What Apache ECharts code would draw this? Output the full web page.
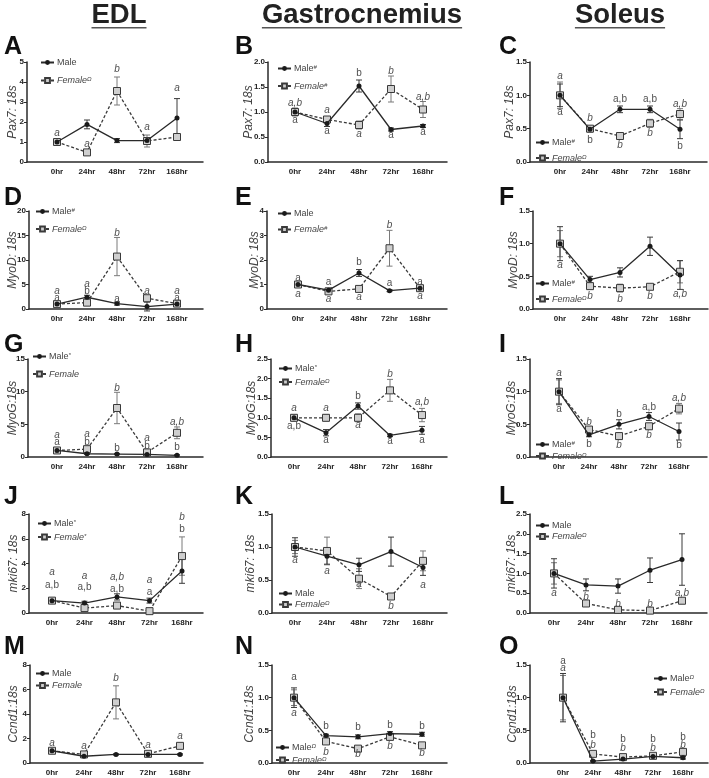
<!DOCTYPE html>
<html><head><meta charset="utf-8">
<script src="https://cdn.jsdelivr.net/npm/echarts@6/dist/echarts.min.js"></script>
<style>html,body{margin:0;padding:0;background:#fff}#c{width:709px;height:778px}</style>
</head><body><div id="c"></div>
<script>
const categories = ['0hr', '24hr', '48hr', '72hr', '168hr'];
const columnTitles = ['EDL', 'Gastrocnemius', 'Soleus'];

// Panel A – EDL Pax7
const maleA = [1.0, 1.88, 1.07, 1.07, 2.2];
const maleErrA = [0.1, 0.22, 0.1, 0.1, 0.97];
const femaleA = [1.0, 0.48, 3.55, 1.05, 1.25];
const femaleErrA = [0.12, 0.05, 0.7, 0.3, 0.08];
const annA = [[0,1.45,'a',1],[1,0.88,'a',1],[2,4.65,'b',1],[3,1.75,'a',1],[4,3.7,'a',1]];
// Panel B – Gastrocnemius Pax7
const maleB = [1.0, 0.77, 1.52, 0.65, 0.72];
const maleErrB = [0.05, 0.06, 0.12, 0.03, 0.03];
const femaleB = [1.0, 0.85, 0.74, 1.46, 1.05];
const femaleErrB = [0.08, 0.04, 0.08, 0.26, 0.16];
const annB = [[0,1.18,'a,b',1],[0,0.83,'a',0],[1,1.04,'a',1],[1,0.62,'a',0],[2,1.78,'b',0],[2,0.56,'a',1],[3,1.82,'b',1],[3,0.54,'a',0],[4,1.3,'a,b',1],[4,0.6,'a',0]];
// Panel C – Soleus Pax7
const maleC = [1.0, 0.49, 0.79, 0.79, 0.49];
const maleErrC = [0.17, 0.04, 0.05, 0.05, 0.14];
const femaleC = [1.0, 0.5, 0.39, 0.58, 0.72];
const femaleErrC = [0.2, 0.04, 0.03, 0.06, 0.08];
const annC = [[0,1.28,'a',1],[0,0.74,'a',0],[1,0.66,'b',1],[1,0.33,'b',0],[2,0.94,'a,b',0],[2,0.25,'b',1],[3,0.94,'a,b',0],[3,0.43,'b',1],[4,0.86,'a,b',1],[4,0.24,'b',0]];
// Panel D – EDL MyoD
const maleD = [1.0, 2.4, 1.1, 0.5, 1.0];
const maleErrD = [0.2, 0.4, 0.3, 0.9, 0.2];
const femaleD = [1.0, 1.3, 10.7, 2.2, 1.1];
const femaleErrD = [0.2, 0.3, 3.9, 0.4, 0.2];
const annD = [[0,3.7,'a',1],[0,2.2,'a',0],[1,5.1,'a',1],[1,3.6,'b',0],[2,15.5,'b',1],[2,2.0,'a',0],[3,3.6,'a',1],[4,3.6,'a',1],[4,2.2,'a',0]];
// Panel E – Gastrocnemius MyoD
const maleE = [1.0, 0.77, 1.47, 0.75, 0.85];
const maleErrE = [0.05, 0.08, 0.14, 0.04, 0.06];
const femaleE = [1.0, 0.72, 0.82, 2.48, 0.85];
const femaleErrE = [0.08, 0.06, 0.08, 0.73, 0.06];
const annE = [[0,1.25,'a',0],[0,0.62,'a',1],[1,1.11,'a',0],[1,0.4,'a',1],[2,1.9,'b',0],[2,0.5,'a',1],[3,3.43,'b',1],[3,1.06,'a',0],[4,1.11,'a',0],[4,0.53,'a',1]];
// Panel F – Soleus MyoD
const maleF = [1.0, 0.45, 0.56, 0.96, 0.52];
const maleErrF = [0.26, 0.05, 0.07, 0.14, 0.22];
const femaleF = [1.0, 0.35, 0.32, 0.34, 0.57];
const femaleErrF = [0.2, 0.05, 0.06, 0.04, 0.17];
const annF = [[0,0.67,'a',1],[1,0.2,'b',1],[2,0.15,'b',1],[3,0.2,'b',1],[4,0.22,'a,b',1]];
// Panel G – EDL MyoG
const maleG = [1.0, 0.5, 0.45, 0.4, 0.25];
const maleErrG = [0.1, 0.1, 0.1, 0.15, 0.1];
const femaleG = [1.0, 1.2, 7.5, 0.7, 3.7];
const femaleErrG = [0.15, 0.3, 2.4, 0.25, 0.9];
const annG = [[0,3.4,'a',1],[0,2.3,'a',0],[1,3.5,'a',1],[1,2.3,'b',0],[2,10.6,'b',1],[2,1.3,'b',0],[3,2.8,'a',1],[3,1.6,'b',0],[4,5.4,'a,b',1],[4,1.45,'b',0]];
// Panel H – Gastrocnemius MyoG
const maleH = [1.0, 0.62, 1.3, 0.55, 0.68];
const maleErrH = [0.08, 0.08, 0.08, 0.03, 0.1];
const femaleH = [1.0, 1.0, 1.0, 1.7, 1.07];
const femaleErrH = [0.06, 0.08, 0.1, 0.28, 0.17];
const annH = [[0,1.24,'a',1],[0,0.78,'a,b',0],[1,1.24,'a',1],[1,0.44,'a',0],[2,1.55,'b',0],[2,0.8,'a',1],[3,2.11,'b',1],[3,0.4,'a',0],[4,1.41,'a,b',1],[4,0.44,'a',0]];
// Panel I – Soleus MyoG
const maleI = [1.0, 0.34, 0.5, 0.62, 0.39];
const maleErrI = [0.2, 0.03, 0.07, 0.06, 0.13];
const femaleI = [1.0, 0.42, 0.32, 0.47, 0.74];
const femaleErrI = [0.18, 0.04, 0.05, 0.04, 0.08];
const annI = [[0,1.28,'a',1],[0,0.73,'a',0],[1,0.53,'b',1],[1,0.2,'b',0],[2,0.66,'b',0],[2,0.18,'b',1],[3,0.76,'a,b',0],[3,0.33,'b',1],[4,0.9,'a,b',1],[4,0.18,'b',0]];
// Panel J – EDL mki67
const maleJ = [1.0, 0.8, 1.3, 1.0, 3.4];
const maleErrJ = [0.1, 0.15, 0.25, 0.2, 1.0];
const femaleJ = [1.0, 0.4, 0.6, 0.15, 4.6];
const femaleErrJ = [0.1, 0.1, 0.15, 0.1, 1.55];
const annJ = [[0,3.33,'a',1],[0,2.26,'a,b',0],[1,3.0,'a',1],[1,2.12,'a,b',0],[2,2.9,'a,b',1],[2,1.94,'a,b',0],[3,2.66,'a',1],[3,1.67,'a',0],[4,7.77,'b',1],[4,6.75,'b',0]];
// Panel K – Gastrocnemius mki67
const maleK = [1.0, 0.86, 0.73, 0.93, 0.69];
const maleErrK = [0.14, 0.12, 0.1, 0.22, 0.12];
const femaleK = [1.0, 0.94, 0.52, 0.25, 0.79];
const femaleErrK = [0.1, 0.21, 0.15, 0.03, 0.15];
const annK = [[0,0.8,'a',1],[1,0.64,'a',1],[2,0.44,'a',1],[3,0.1,'b',1],[4,0.42,'a',1]];
// Panel L – Soleus mki67
const maleL = [1.0, 0.71, 0.68, 1.08, 1.35];
const maleErrL = [0.37, 0.15, 0.18, 0.31, 0.65];
const femaleL = [1.0, 0.24, 0.08, 0.06, 0.31];
const femaleErrL = [0.27, 0.03, 0.03, 0.02, 0.03];
const annL = [[0,0.5,'a',1],[1,0.4,'b',1],[2,0.23,'b',1],[3,0.23,'b',1],[4,0.5,'a,b',1]];
// Panel M – EDL Ccnd1
const maleM = [1.0, 0.55, 0.7, 0.7, 0.7];
const maleErrM = [0.05, 0.05, 0.05, 0.05, 0.05];
const femaleM = [1.0, 0.7, 4.95, 0.75, 1.4];
const femaleErrM = [0.1, 0.1, 1.35, 0.1, 0.2];
const annM = [[0,1.6,'a',1],[1,1.33,'a',1],[2,6.96,'b',1],[3,1.47,'a',1],[4,2.15,'a',1]];
// Panel N – Gastrocnemius Ccnd1
const maleN = [1.0, 0.42, 0.4, 0.45, 0.44];
const maleErrN = [0.15, 0.02, 0.03, 0.03, 0.03];
const femaleN = [1.0, 0.33, 0.22, 0.4, 0.27];
const femaleErrN = [0.12, 0.02, 0.02, 0.05, 0.03];
const annN = [[0,1.31,'a',0],[0,0.76,'a',1],[1,0.56,'b',0],[1,0.17,'b',1],[2,0.54,'b',0],[2,0.13,'b',1],[3,0.58,'b',0],[3,0.25,'b',1],[4,0.56,'b',0],[4,0.15,'b',1]];
// Panel O – Soleus Ccnd1
const maleO = [1.0, 0.03, 0.06, 0.1, 0.08];
const maleErrO = [0.37, 0.01, 0.01, 0.01, 0.02];
const femaleO = [1.0, 0.14, 0.09, 0.11, 0.17];
const femaleErrO = [0.34, 0.02, 0.02, 0.02, 0.03];
const annO = [[0,1.55,'a',0],[0,1.45,'a',1],[1,0.43,'b',0],[1,0.27,'b',1],[2,0.37,'b',0],[2,0.22,'b',1],[3,0.37,'b',0],[3,0.22,'b',1],[4,0.4,'b',0],[4,0.27,'b',1]];

const FONT = "'Liberation Sans', Arial, Helvetica, sans-serif";
const rowsY = [[62,162],[211,309],[359,457],[514,613],[665,763]];
const letterY = [47, 198, 345, 497, 647];
const colLetterX = [4, 235, 499];
const colTitleX = [119, 362, 620];

const panels = [
 {id:'A',row:0,col:0,L:27,R:203,P0:57,S:30,yMax:5,yStep:1,dec:0,yName:'Pax7: 18s',nameX:13,m:maleA,me:maleErrA,f:femaleA,fe:femaleErrA,ann:annA,mSup:'',fSup:'Ω',lg:[40,62,17]},
 {id:'B',row:0,col:1,L:268,R:447,P0:295,S:32,yMax:2,yStep:0.5,dec:1,yName:'Pax7: 18s',nameX:249,m:maleB,me:maleErrB,f:femaleB,fe:femaleErrB,ann:annB,mSup:'#',fSup:'#',lg:[277,68,14]},
 {id:'C',row:0,col:2,L:530,R:707,P0:560,S:30,yMax:1.5,yStep:0.5,dec:1,yName:'Pax7: 18s',nameX:510,m:maleC,me:maleErrC,f:femaleC,fe:femaleErrC,ann:annC,mSup:'#',fSup:'Ω',lg:[535,142,12]},
 {id:'D',row:1,col:0,L:29,R:203,P0:57,S:30,yMax:20,yStep:5,dec:0,yName:'MyoD: 18s',nameX:13,m:maleD,me:maleErrD,f:femaleD,fe:femaleErrD,ann:annD,mSup:'#',fSup:'Ω',lg:[35,211,14]},
 {id:'E',row:1,col:1,L:267,R:447,P0:298,S:30.5,yMax:4,yStep:1,dec:0,yName:'MyoD: 18s',nameX:255,m:maleE,me:maleErrE,f:femaleE,fe:femaleErrE,ann:annE,mSup:'',fSup:'#',lg:[277,213,15]},
 {id:'F',row:1,col:2,L:533,R:708,P0:560,S:30,yMax:1.5,yStep:0.5,dec:1,yName:'MyoD: 18s',nameX:514,m:maleF,me:maleErrF,f:femaleF,fe:femaleErrF,ann:annF,mSup:'#',fSup:'Ω',lg:[535,283,12]},
 {id:'G',row:2,col:0,L:28,R:203,P0:57,S:30,yMax:15,yStep:5,dec:0,yName:'MyoG:18s',nameX:13,m:maleG,me:maleErrG,f:femaleG,fe:femaleErrG,ann:annG,mSup:'*',fSup:'',lg:[32,356,14]},
 {id:'H',row:2,col:1,L:271,R:447,P0:294,S:32,yMax:2.5,yStep:0.5,dec:1,yName:'MyoG:18s',nameX:252,m:maleH,me:maleErrH,f:femaleH,fe:femaleErrH,ann:annH,mSup:'*',fSup:'Ω',lg:[278,368,10]},
 {id:'I',row:2,col:2,L:530,R:707,P0:559,S:30,yMax:1.5,yStep:0.5,dec:1,yName:'MyoG:18s',nameX:512,m:maleI,me:maleErrI,f:femaleI,fe:femaleErrI,ann:annI,mSup:'#',fSup:'Ω',lg:[535,444,8]},
 {id:'J',row:3,col:0,L:29,R:203,P0:52,S:32.5,yMax:8,yStep:2,dec:0,yName:'mki67: 18s',nameX:14,m:maleJ,me:maleErrJ,f:femaleJ,fe:femaleErrJ,ann:annJ,mSup:'*',fSup:'*',lg:[37,523,10]},
 {id:'K',row:3,col:1,L:272,R:447,P0:295,S:32,yMax:1.5,yStep:0.5,dec:1,yName:'mki67: 18s',nameX:251,m:maleK,me:maleErrK,f:femaleK,fe:femaleErrK,ann:annK,mSup:'',fSup:'Ω',lg:[278,593,10]},
 {id:'L',row:3,col:2,L:530,R:707,P0:554,S:32,yMax:2.5,yStep:0.5,dec:1,yName:'mki67: 18s',nameX:512,m:maleL,me:maleErrL,f:femaleL,fe:femaleErrL,ann:annL,mSup:'',fSup:'Ω',lg:[535,525,10]},
 {id:'M',row:4,col:0,L:30,R:203,P0:52,S:32,yMax:8,yStep:2,dec:0,yName:'Ccnd1:18s',nameX:14,m:maleM,me:maleErrM,f:femaleM,fe:femaleErrM,ann:annM,mSup:'',fSup:'',lg:[35,673,11]},
 {id:'N',row:4,col:1,L:272,R:447,P0:294,S:32,yMax:1.5,yStep:0.5,dec:1,yName:'Ccnd1:18s',nameX:250,m:maleN,me:maleErrN,f:femaleN,fe:femaleErrN,ann:annN,mSup:'Ω',fSup:'Ω',lg:[275,747,9]},
 {id:'O',row:4,col:2,L:530,R:708,P0:563,S:30,yMax:1.5,yStep:0.5,dec:1,yName:'Ccnd1:18s',nameX:513,m:maleO,me:maleErrO,f:femaleO,fe:femaleErrO,ann:annO,mSup:'Ω',fSup:'Ω',lg:[653,678,10]}
];

function errRender(color) {
  return function (params, api) {
    const x = api.value(0), y = api.value(1), e = api.value(2);
    const t = api.coord([x, y + e]), b = api.coord([x, y - e]);
    const hw = 3, st = {stroke: color, lineWidth: 1};
    return {type: 'group', children: [
      {type: 'line', shape: {x1: t[0], y1: t[1], x2: b[0], y2: b[1]}, style: st},
      {type: 'line', shape: {x1: t[0] - hw, y1: t[1], x2: t[0] + hw, y2: t[1]}, style: st},
      {type: 'line', shape: {x1: b[0] - hw, y1: b[1], x2: b[0] + hw, y2: b[1]}, style: st}
    ]};
  };
}
function annRender(ann) {
  return function (params, api) {
    const a = ann[params.dataIndex];
    const p = api.coord([api.value(0), api.value(1)]);
    return {type: 'text', x: p[0], y: p[1], style: {
      text: a[2], fill: '#505050', align: 'center', verticalAlign: 'middle',
      font: (a[3] ? 'italic ' : '') + '10px ' + FONT}};
  };
}

const option = {animation: false, grid: [], xAxis: [], yAxis: [], series: [], legend: [], graphic: []};
const axisColor = '#2a2a2a';

panels.forEach((p, i) => {
  const [top, bottom] = rowsY[p.row];
  option.grid.push({left: p.L, top: top, width: p.R - p.L, height: bottom - top});
  option.xAxis.push({
    type: 'value', gridIndex: i,
    min: -(p.P0 - p.L) / p.S, max: 4 + (p.R - p.P0 - 4 * p.S) / p.S,
    splitLine: {show: false}, axisTick: {show: false},
    axisLine: {onZero: false, lineStyle: {color: axisColor, width: 1.5}},
    axisLabel: {customValues: [0, 1, 2, 3, 4], formatter: v => categories[Math.round(v)] || '',
      fontSize: 8, fontWeight: 'bold', color: '#222', margin: 6, fontFamily: FONT}
  });
  option.yAxis.push({
    type: 'value', gridIndex: i, min: 0, max: p.yMax, interval: p.yStep,
    name: p.yName, nameLocation: 'middle', nameGap: p.L - p.nameX - 6, nameMoveOverlap: false,
    nameTextStyle: {fontStyle: 'italic', fontSize: 12, color: '#444', fontFamily: FONT},
    splitLine: {show: false},
    axisLine: {show: true, onZero: false, lineStyle: {color: axisColor, width: 1.5}},
    axisTick: {show: true, length: 3, lineStyle: {color: axisColor, width: 1}},
    axisLabel: {fontSize: 8, fontWeight: 'bold', color: '#222', margin: 3, fontFamily: FONT,
      formatter: v => v.toFixed(p.dec)}
  });
  option.series.push({
    type: 'custom', xAxisIndex: i, yAxisIndex: i, z: 1, silent: true,
    data: p.f.map((v, k) => [k, v, p.fe[k]]), encode: {x: 0, y: 1},
    renderItem: errRender('#7a7a7a')
  });
  option.series.push({
    type: 'custom', xAxisIndex: i, yAxisIndex: i, z: 1, silent: true,
    data: p.m.map((v, k) => [k, v, p.me[k]]), encode: {x: 0, y: 1},
    renderItem: errRender('#3a3a3a')
  });
  option.series.push({
    type: 'line', name: 'Female', xAxisIndex: i, yAxisIndex: i, z: 3,
    data: p.f.map((v, k) => [k, v]),
    symbol: 'rect', symbolSize: 7,
    itemStyle: {color: '#cfcfcf', borderColor: '#3a3a3a', borderWidth: 1},
    lineStyle: {color: '#3a3a3a', width: 1.3, type: [3, 2]}
  });
  option.series.push({
    type: 'line', name: 'Male', xAxisIndex: i, yAxisIndex: i, z: 4,
    data: p.m.map((v, k) => [k, v]),
    symbol: 'circle', symbolSize: 5,
    itemStyle: {color: '#1a1a1a'},
    lineStyle: {color: '#2a2a2a', width: 1.3}
  });
  option.series.push({
    type: 'custom', xAxisIndex: i, yAxisIndex: i, z: 5, silent: true,
    data: p.ann.map(a => [a[0], a[1]]), encode: {x: 0, y: 1},
    renderItem: annRender(p.ann)
  });
  const lh = 8;
  option.legend.push({
    orient: 'vertical', left: p.lg[0], top: p.lg[1] - lh / 2, itemGap: p.lg[2] - lh,
    itemWidth: 13, itemHeight: 6, padding: 0, selectedMode: false,
    data: ['Male', 'Female'],
    formatter: n => n === 'Male'
      ? '{m|Male}' + (p.mSup ? '{s|' + p.mSup + '}' : '')
      : '{f|Female}' + (p.fSup ? '{s|' + p.fSup + '}' : ''),
    textStyle: {fontSize: 9, color: '#444', fontFamily: FONT, lineHeight: lh, padding: [0, 0, 0, -2],
      rich: {
        m: {fontSize: 9, color: '#444', fontFamily: FONT, lineHeight: lh},
        f: {fontSize: 9, color: '#444', fontStyle: 'italic', fontFamily: FONT, lineHeight: lh},
        s: {fontSize: 6, color: '#444', fontStyle: 'italic', fontFamily: FONT, lineHeight: lh, verticalAlign: 'top', padding: [0, 0, 5, 0]}
      }}
  });
  option.graphic.push({
    type: 'text', x: colLetterX[p.col], y: letterY[p.row],
    style: {text: p.id, font: 'bold 25px ' + FONT, fill: '#111', verticalAlign: 'middle', align: 'left'}
  });
});

// column titles with underline
const TITLE_FONT = "bold 27.5px 'Liberation Sans', Arial, sans-serif";
const cv = document.createElement('canvas').getContext('2d');
cv.font = TITLE_FONT;
columnTitles.forEach((t, c) => {
  const w = cv.measureText(t).width;
  option.graphic.push({type: 'text', x: colTitleX[c], y: 15,
    style: {text: t, font: TITLE_FONT, fill: '#222', align: 'center', verticalAlign: 'middle'}});
  option.graphic.push({type: 'rect', shape: {x: colTitleX[c] - w / 2, y: 27, width: w, height: 1.5},
    style: {fill: '#555'}});
});

const chart = echarts.init(document.getElementById('c'), null, {renderer: 'canvas'});
chart.setOption(option);
</script>
</body></html>
